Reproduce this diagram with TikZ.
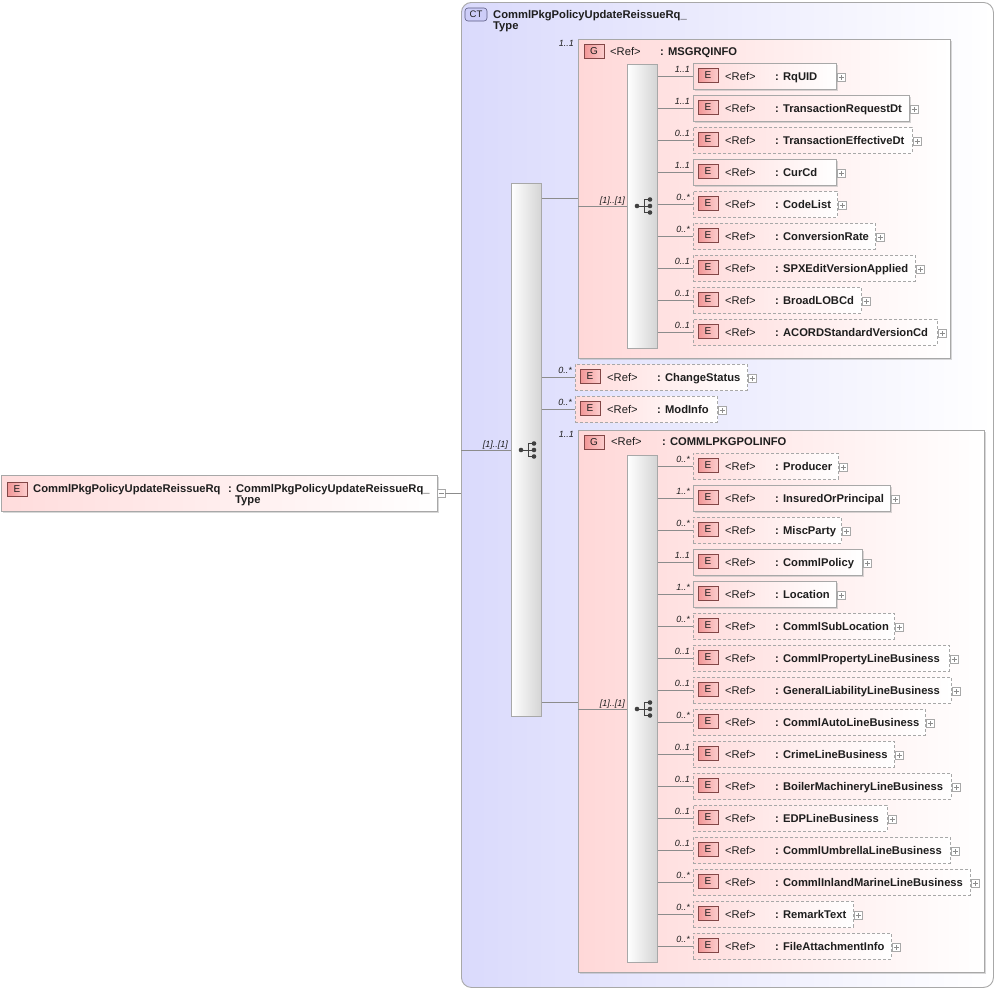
\documentclass[tikz,border=0pt]{standalone}
\usepackage{fontspec}
\setmainfont{Liberation Sans}
\usetikzlibrary{shadows}
\definecolor{ctlav}{RGB}{218,218,252}
\definecolor{gpink}{RGB}{255,216,216}
\definecolor{epink}{RGB}{255,220,220}
\definecolor{iconfill}{RGB}{242,150,150}
\definecolor{iconfill2}{RGB}{252,205,205}
\definecolor{icondark}{RGB}{130,70,70}
\definecolor{ctfill}{RGB}{205,205,248}
\definecolor{ctdark}{RGB}{90,90,130}
\definecolor{linegray}{RGB}{140,140,140}
\definecolor{boxgray}{RGB}{168,168,168}
\definecolor{bargray}{RGB}{212,212,212}
\definecolor{txt}{RGB}{30,30,30}
\tikzset{
  conn/.style={draw=linegray, line width=0.8pt},
  ebox/.style={rectangle, draw=boxgray, line width=0.8pt, left color=epink, right color=white, inner sep=0pt, minimum height=26pt, anchor=west},
  opt/.style={dash pattern=on 3pt off 2pt},
  req/.style={drop shadow={shadow xshift=1.5pt, shadow yshift=-1.5pt, fill=black!30}},
  eicon/.style={rectangle, draw=icondark, line width=0.6pt, left color=iconfill, right color=iconfill2, minimum width=20pt, minimum height=14pt, inner sep=0pt, font=\fontsize{10}{11}\selectfont, text=txt},
  cticon/.style={rectangle, rounded corners=3pt, draw=ctdark, line width=0.6pt, fill=ctfill, minimum width=22pt, minimum height=13pt, inner sep=0pt, font=\fontsize{9.5}{10}\selectfont, text=txt},
  reft/.style={anchor=base west, inner sep=0pt, font=\fontsize{11.2}{13}\selectfont, text=txt},
  namet/.style={anchor=base west, inner sep=0pt, font=\fontsize{11.2}{13}\selectfont\bfseries, text=txt},
  multt/.style={anchor=base east, inner sep=0pt, font=\fontsize{9}{10}\selectfont\itshape, text=txt},
  plusbox/.style={rectangle, draw=boxgray, fill=white, line width=0.5pt, minimum size=8pt, inner sep=0pt,
    path picture={\draw[linegray, line width=0.6pt] ([xshift=-2.5pt]path picture bounding box.center) -- ([xshift=2.5pt]path picture bounding box.center);
      \draw[linegray, line width=0.6pt] ([yshift=-2.5pt]path picture bounding box.center) -- ([yshift=2.5pt]path picture bounding box.center);}},
  minusbox/.style={rectangle, draw=boxgray, fill=white, line width=0.5pt, minimum size=8pt, inner sep=0pt,
    path picture={\draw[linegray, line width=0.6pt] ([xshift=-2.5pt]path picture bounding box.center) -- ([xshift=2.5pt]path picture bounding box.center);}},
  seqbar/.style={rectangle, draw=boxgray, line width=0.8pt, left color=white, right color=bargray, inner sep=0pt, anchor=north west},
  gbox/.style={rectangle, draw=boxgray, line width=0.8pt, left color=gpink, right color=white, inner sep=0pt, anchor=north west, drop shadow={shadow xshift=2pt, shadow yshift=-2pt, fill=black!30}},
  ctbox/.style={rectangle, rounded corners=10pt, draw=boxgray, line width=0.9pt, left color=ctlav, right color=white, inner sep=0pt, anchor=north west}
}
\newcommand\elembox[8]{%
  \node[ebox,#7,minimum width={(#4-#2)*1pt}] (#1) at (#2,#3) {};
  \node[eicon] (#1-i) at ({#2+15},{#3-0.5}) {E};
  \node[reft] (#1-r) at ({#2+32},{#3+4}) {<Ref>};
  \node[namet] (#1-n) at ({#2+82},{#3+4}) {: #5};
  \node[plusbox] (#1-p) at ({#4+5},{#3+1}) {};
  \node[multt] (#1-m) at ({#2-3},{#3-4}) {#6};
  \draw[conn] (#8.east |- #1.west) -- (#1.west);
}
\newcommand\seqicon[2]{%
  \draw[black!75, line width=1pt] (#1,#2) -- ({#1+7},#2)
     ({#1+7},{#2-6.5}) -- ({#1+7},{#2+6.5})
     ({#1+7},{#2-6.5}) -- ({#1+13},{#2-6.5})
     ({#1+7},{#2+6.5}) -- ({#1+13},{#2+6.5})
     ({#1+7},#2) -- ({#1+13},#2);
  \fill[black!75] (#1,#2) circle (2.3pt) ({#1+13},{#2-6.5}) circle (2.3pt) ({#1+13},#2) circle (2.3pt) ({#1+13},{#2+6.5}) circle (2.3pt);
}
\begin{document}
\begin{tikzpicture}[x=1pt,y=-1pt]
\useasboundingbox[fill=white] (0,0) rectangle (997,989);
% complex type box
\node[ctbox, minimum width=532pt, minimum height=985pt] (ct) at (461,2) {};
\node[cticon] (ct-i) at (476,14.5) {CT};
\node[namet] (ct-t1) at (493,18) {CommlPkgPolicyUpdateReissueRq\_};
\node[namet] (ct-t2) at (493,29.5) {Type};
% root element
\node[ebox, req, anchor=north west, minimum width=436pt, minimum height=36pt] (root) at (1,475) {};
\node[eicon] (root-i) at (17,489) {E};
\node[namet] (root-n) at (33,492) {CommlPkgPolicyUpdateReissueRq};
\node[namet] (root-t1) at (228,492) {: CommlPkgPolicyUpdateReissueRq\_};
\node[namet] (root-t2) at (235,503.5) {Type};
\node[minusbox] (root-m) at (441,493) {};
\draw[conn] (root-m.east) -- (ct.west |- root-m.east);
% outer sequence
\node[seqbar, minimum width=30pt, minimum height=533pt] (seq0) at (511,183) {};
\draw[conn] (ct.west |- 0,450) -- (seq0.west |- 0,450);
\node[multt] (seq0-m) at (508,447) {[1]..[1]};
\seqicon{521}{450}
% group MSGRQINFO
\node[gbox, minimum width=372pt, minimum height=319pt] (g1) at (578,39) {};
\node[eicon] (g1-i) at (594,51.5) {G};
\node[reft] (g1-r) at (610,55.5) {<Ref>};
\node[namet] (g1-n) at (660,55.5) {: MSGRQINFO};
\node[multt] (g1-m) at (574,46) {1..1};
\draw[conn] (seq0.east |- 0,198) -- (g1.west |- 0,198);
\node[seqbar, minimum width=30pt, minimum height=284pt] (seq1) at (627,64) {};
\draw[conn] (g1.west |- 0,206) -- (seq1.west |- 0,206);
\node[multt] (seq1-m) at (625,203) {[1]..[1]};
\seqicon{637}{206}
\elembox{rquid}{693}{76}{836}{RqUID}{1..1}{req}{seq1}
\elembox{trdt}{693}{108}{909}{TransactionRequestDt}{1..1}{req}{seq1}
\elembox{tedt}{693}{140}{912}{TransactionEffectiveDt}{0..1}{opt}{seq1}
\elembox{curcd}{693}{172}{836}{CurCd}{1..1}{req}{seq1}
\elembox{codelist}{693}{204}{837}{CodeList}{0..*}{opt}{seq1}
\elembox{convrate}{693}{236}{875}{ConversionRate}{0..*}{opt}{seq1}
\elembox{spx}{693}{268}{915}{SPXEditVersionApplied}{0..1}{opt}{seq1}
\elembox{broadlob}{693}{300}{861}{BroadLOBCd}{0..1}{opt}{seq1}
\elembox{acord}{693}{332}{937}{ACORDStandardVersionCd}{0..1}{opt}{seq1}
% ChangeStatus, ModInfo
\elembox{chstatus}{575}{377}{747}{ChangeStatus}{0..*}{opt}{seq0}
\elembox{modinfo}{575}{409}{717}{ModInfo}{0..*}{opt}{seq0}
% group COMMLPKGPOLINFO
\node[gbox, minimum width=406pt, minimum height=542pt] (g2) at (578,430) {};
\node[eicon] (g2-i) at (594,442) {G};
\node[reft] (g2-r) at (611,445.5) {<Ref>};
\node[namet] (g2-n) at (662,445.5) {: COMMLPKGPOLINFO};
\node[multt] (g2-m) at (574,437) {1..1};
\draw[conn] (seq0.east |- 0,702) -- (g2.west |- 0,702);
\node[seqbar, minimum width=30pt, minimum height=507pt] (seq2) at (627,455) {};
\draw[conn] (g2.west |- 0,709) -- (seq2.west |- 0,709);
\node[multt] (seq2-m) at (625,706) {[1]..[1]};
\seqicon{637}{709}
\elembox{producer}{693}{466}{838}{Producer}{0..*}{opt}{seq2}
\elembox{insured}{693}{498}{890}{InsuredOrPrincipal}{1..*}{req}{seq2}
\elembox{miscparty}{693}{530}{841}{MiscParty}{0..*}{opt}{seq2}
\elembox{commlpolicy}{693}{562}{862}{CommlPolicy}{1..1}{req}{seq2}
\elembox{location}{693}{594}{836}{Location}{1..*}{req}{seq2}
\elembox{subloc}{693}{626}{894}{CommlSubLocation}{0..*}{opt}{seq2}
\elembox{propline}{693}{658}{949}{CommlPropertyLineBusiness}{0..1}{opt}{seq2}
\elembox{glline}{693}{690}{951}{GeneralLiabilityLineBusiness}{0..1}{opt}{seq2}
\elembox{autoline}{693}{722}{925}{CommlAutoLineBusiness}{0..*}{opt}{seq2}
\elembox{crimeline}{693}{754}{894}{CrimeLineBusiness}{0..1}{opt}{seq2}
\elembox{boilerline}{693}{786}{951}{BoilerMachineryLineBusiness}{0..1}{opt}{seq2}
\elembox{edpline}{693}{818}{887}{EDPLineBusiness}{0..1}{opt}{seq2}
\elembox{umbline}{693}{850}{950}{CommlUmbrellaLineBusiness}{0..1}{opt}{seq2}
\elembox{inlandline}{693}{882}{970}{CommlInlandMarineLineBusiness}{0..*}{opt}{seq2}
\elembox{remark}{693}{914}{853}{RemarkText}{0..*}{opt}{seq2}
\elembox{fileatt}{693}{946}{891}{FileAttachmentInfo}{0..*}{opt}{seq2}
\end{tikzpicture}
\end{document}
